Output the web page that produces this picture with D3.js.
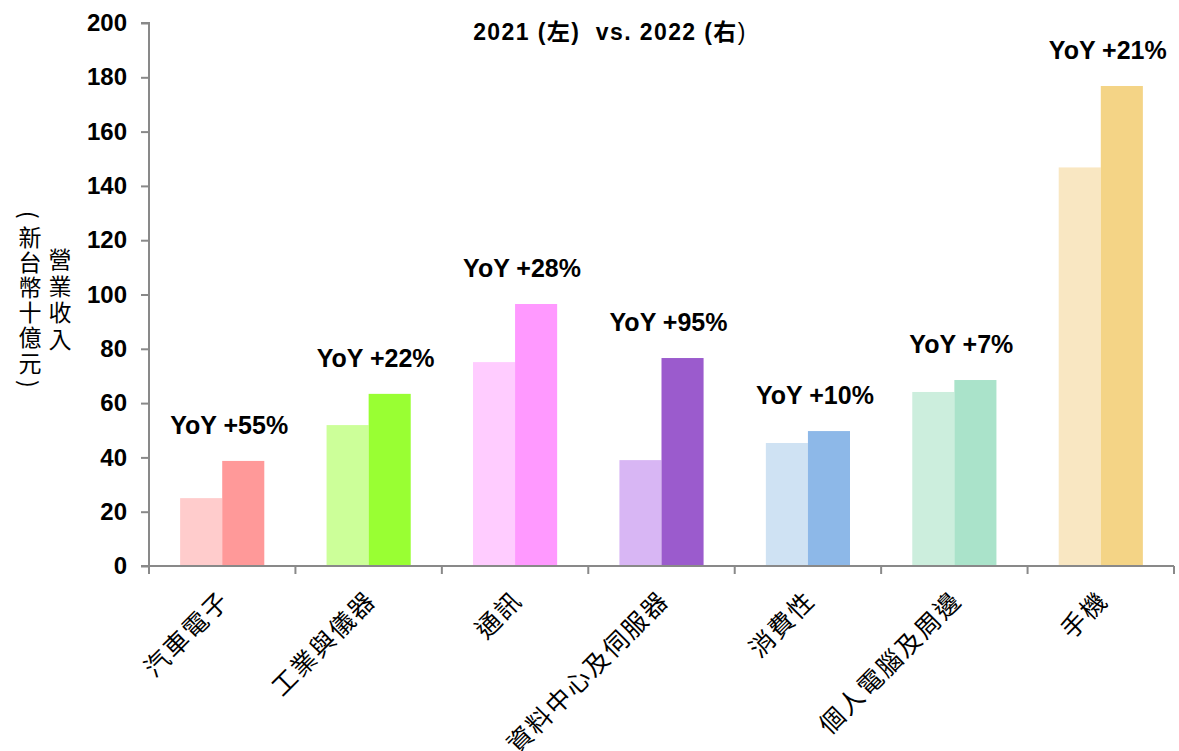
<!DOCTYPE html>
<html>
<head>
<meta charset="utf-8">
<script src="https://cdn.jsdelivr.net/npm/d3@7"></script>
<style>
  body { margin: 0; background: #fff; }
  svg { display: block; }
  .cjk { font-family: "Noto Sans CJK TC", "Liberation Sans", sans-serif; }
</style>
</head>
<body>
<script>
;(function() {
  var categories = ["汽車電子", "工業與儀器", "通訊", "資料中心及伺服器", "消費性", "個人電腦及周邊", "手機"]
  var years = ["2021", "2022"]
  var rev2021 = [25.0, 51.9, 75.1, 39.0, 45.3, 64.1, 146.8]
  var rev2022 = [38.7, 63.4, 96.5, 76.6, 49.7, 68.5, 176.8]
  var yoyLabels = ["YoY +55%", "YoY +22%", "YoY +28%", "YoY +95%", "YoY +10%", "YoY +7%", "YoY +21%"]
  var colors2021 = ["#FFCCCC", "#CCFF99", "#FFCCFF", "#D8B6F4", "#CFE2F3", "#CCEEDD", "#F9E7C2"]
  var colors2022 = ["#FF9999", "#99FF33", "#FF99FF", "#9B5BCD", "#8DB8E8", "#AAE3CA", "#F4D486"]
  var yTicks = [0, 20, 40, 60, 80, 100, 120, 140, 160, 180, 200]

  var W = 1179, H = 751
  var left = 149, right = 1174, top = 23, bottom = 566
  var axisColor = "#898989"

  var svg = d3.select("body").append("svg")
    .attr("width", W).attr("height", H)

  var x0 = d3.scaleBand().domain(categories).range([left, right]).paddingInner(0).paddingOuter(0)
  var x1 = d3.scaleBand().domain(years).range([0, x0.bandwidth()]).paddingInner(0).paddingOuter(0.74)
  var y = d3.scaleLinear().domain([0, 200]).range([bottom, top])

  // bars
  var rows = categories.map(function(c, i) {
    return { cat: c, vals: [
      { year: "2021", v: rev2021[i], color: colors2021[i] },
      { year: "2022", v: rev2022[i], color: colors2022[i] }
    ] }
  })

  var groups = svg.append("g").selectAll("g")
    .data(rows).enter().append("g")
    .attr("transform", function(d) { return "translate(" + x0(d.cat) + ",0)" })

  groups.selectAll("rect")
    .data(function(d) { return d.vals }).enter().append("rect")
    .attr("x", function(d) { return x1(d.year) })
    .attr("width", x1.bandwidth())
    .attr("y", function(d) { return y(d.v) })
    .attr("height", function(d) { return y(0) - y(d.v) })
    .attr("fill", function(d) { return d.color })

  // y axis
  var yAxis = svg.append("g")
    .attr("transform", "translate(" + left + ",0)")
    .call(d3.axisLeft(y).tickValues(yTicks).tickSize(8).tickPadding(14))
  yAxis.selectAll("path, line").attr("stroke", axisColor).attr("stroke-width", 2)
  yAxis.select(".domain").attr("d", "M-8," + top + "H0V" + bottom)
  yAxis.selectAll("text")
    .attr("font-family", "Liberation Sans, Arial, sans-serif")
    .attr("font-size", 24).attr("font-weight", "bold").attr("fill", "#000")

  // x axis
  var xg = svg.append("g")
  xg.append("line")
    .attr("x1", left - 8).attr("x2", right).attr("y1", bottom).attr("y2", bottom)
    .attr("stroke", axisColor).attr("stroke-width", 2)
  var bounds = categories.map(function(c) { return x0(c) }).concat([right])
  xg.selectAll("line.tick").data(bounds).enter().append("line")
    .attr("class", "tick")
    .attr("x1", function(d) { return d }).attr("x2", function(d) { return d })
    .attr("y1", bottom).attr("y2", bottom + 8)
    .attr("stroke", axisColor).attr("stroke-width", 2)

  xg.selectAll("text").data(categories).enter().append("text")
    .attr("class", "cjk")
    .attr("transform", function(d) {
      return "translate(" + (x0(d) + x0.bandwidth() / 2 + 9) + "," + (bottom + 36) + ") rotate(-45)"
    })
    .attr("text-anchor", "end")
    .attr("font-size", 25)
    .attr("letter-spacing", 2)
    .attr("fill", "#000")
    .text(function(d) { return d })

  // YoY labels
  svg.append("g").selectAll("text")
    .data(rows).enter().append("text")
    .attr("x", function(d) { return x0(d.cat) + x0.bandwidth() / 2 + 7 })
    .attr("y", function(d) { return y(d3.max(d.vals, function(v) { return v.v })) - 27 })
    .attr("text-anchor", "middle")
    .attr("font-family", "Liberation Sans, Arial, sans-serif")
    .attr("font-size", 25).attr("font-weight", "bold")
    .text(function(d, i) { return yoyLabels[i] })

  // title
  var title = svg.append("text")
    .attr("x", 610).attr("y", 40)
    .attr("text-anchor", "middle")
    .attr("font-family", "Liberation Sans, Arial, 'Noto Sans CJK TC', sans-serif")
    .attr("font-size", 23).attr("font-weight", "bold")
    .attr("letter-spacing", 1.4)
    .attr("xml:space", "preserve")
  title.append("tspan").text("2021 (左)  vs. 2022 (右")
  title.append("tspan").attr("font-weight", "normal").text(")")

  // y axis title, stacked characters (two columns, read right to left)
  var colRight = "營業收入".split("")
  var colLeft = "(新台幣十億元)".split("")
  var leftY = [215, 236, 261, 286, 311, 336, 362, 384]

  svg.append("g").selectAll("text")
    .data(colRight).enter().append("text")
    .attr("class", "cjk")
    .attr("x", 60)
    .attr("y", function(d, i) { return 258 + i * 26.7 })
    .attr("text-anchor", "middle").attr("dominant-baseline", "central")
    .attr("font-size", 23)
    .text(function(d) { return d })

  svg.append("g").selectAll("text")
    .data(colLeft).enter().append("text")
    .attr("class", "cjk")
    .attr("x", 30)
    .attr("y", function(d, i) { return leftY[i] })
    .attr("text-anchor", "middle").attr("dominant-baseline", "central")
    .attr("font-size", 23)
    .attr("transform", function(d, i) {
      return (d === "(" || d === ")") ? "rotate(90,30," + leftY[i] + ")" : null
    })
    .text(function(d) { return d })
})()
</script>
</body>
</html>
